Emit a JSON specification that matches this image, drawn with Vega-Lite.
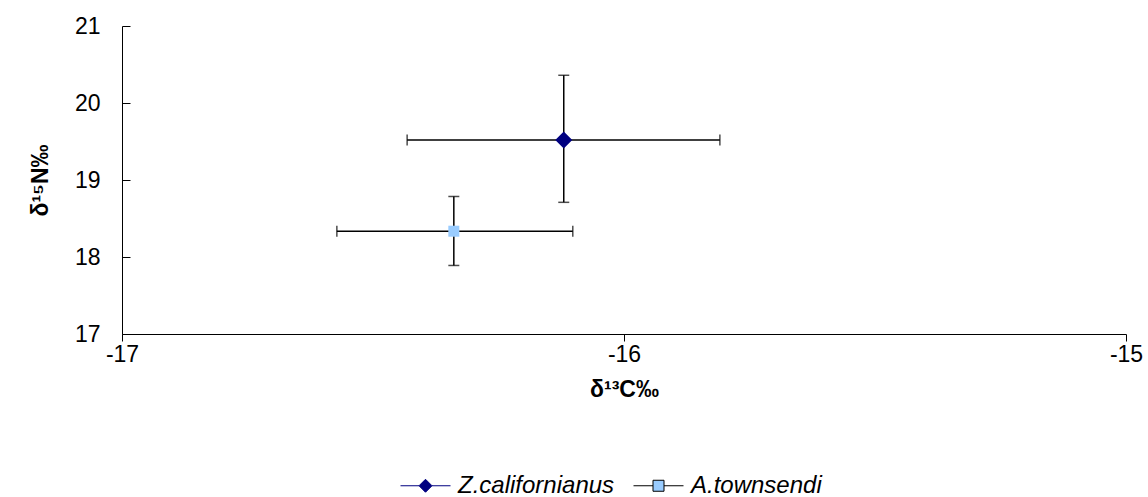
{
  "$schema": "https://vega.github.io/schema/vega-lite/v6.json",
  "width": 1004,
  "height": 308,
  "autosize": "none",
  "padding": {"left": 122, "top": 26, "right": 22, "bottom": 163},
  "background": "white",
  "config": {
    "view": {"stroke": null},
    "font": "Liberation Sans"
  },
  "data": {
    "values": [
      {"species": "Z.californianus", "x": -16.12, "y": 19.52, "xlo": -16.432, "xhi": -15.809, "ylo": 18.71, "yhi": 20.36},
      {"species": "A.townsendi", "x": -16.339, "y": 18.335, "xlo": -16.572, "xhi": -16.102, "ylo": 17.89, "yhi": 18.786}
    ]
  },
  "layer": [
    {
      "mark": {"type": "rule", "color": "black", "strokeWidth": 1.5},
      "encoding": {
        "x": {"field": "xlo", "type": "quantitative", "scale": {"domain": [-17, -15], "nice": false, "zero": false},
          "axis": {"values": [-17, -16, -15], "labelExpr": "'' + datum.value", "labelFlush": false, "title": "δ¹³C‰", "grid": false,
            "domainColor": "black", "tickColor": "black", "tickSize": 7, "labelPadding": 2,
            "labelFont": "Liberation Sans", "labelFontSize": 23, "labelColor": "black",
            "titleFont": "Liberation Sans", "titleFontSize": 23, "titleFontWeight": "bold", "titleColor": "black", "titlePadding": 12}},
        "x2": {"field": "xhi"},
        "y": {"field": "y", "type": "quantitative", "scale": {"domain": [17, 21], "nice": false, "zero": false},
          "axis": {"values": [17, 18, 19, 20, 21], "labelExpr": "'' + datum.value", "labelFlush": false, "title": "δ¹⁵N‰", "grid": false,
            "domainColor": "black", "tickColor": "black", "tickSize": -8, "labelPadding": 30,
            "labelFont": "Liberation Sans", "labelFontSize": 23, "labelColor": "black",
            "titleFont": "Liberation Sans", "titleFontSize": 23, "titleFontWeight": "bold", "titleColor": "black", "titlePadding": 22}}
      }
    },
    {
      "mark": {"type": "rule", "color": "black", "strokeWidth": 1.5},
      "encoding": {
        "x": {"field": "x", "type": "quantitative"},
        "y": {"field": "ylo", "type": "quantitative"},
        "y2": {"field": "yhi"}
      }
    },
    {
      "mark": {"type": "tick", "color": "black", "orient": "vertical", "size": 11, "thickness": 1.5},
      "encoding": {
        "x": {"field": "xlo", "type": "quantitative"},
        "y": {"field": "y", "type": "quantitative"}
      }
    },
    {
      "mark": {"type": "tick", "color": "black", "orient": "vertical", "size": 11, "thickness": 1.5},
      "encoding": {
        "x": {"field": "xhi", "type": "quantitative"},
        "y": {"field": "y", "type": "quantitative"}
      }
    },
    {
      "mark": {"type": "tick", "color": "black", "orient": "horizontal", "size": 11, "thickness": 1.5},
      "encoding": {
        "x": {"field": "x", "type": "quantitative"},
        "y": {"field": "ylo", "type": "quantitative"}
      }
    },
    {
      "mark": {"type": "tick", "color": "black", "orient": "horizontal", "size": 11, "thickness": 1.5},
      "encoding": {
        "x": {"field": "x", "type": "quantitative"},
        "y": {"field": "yhi", "type": "quantitative"}
      }
    },
    {
      "mark": {"type": "point", "filled": true, "opacity": 1, "strokeWidth": 0,
        "size": {"expr": "datum.species === 'Z.californianus' ? 289 : 121"},
        "shape": {"expr": "datum.species === 'Z.californianus' ? 'diamond' : 'square'"}},
      "encoding": {
        "x": {"field": "x", "type": "quantitative"},
        "y": {"field": "y", "type": "quantitative"},
        "color": {
          "field": "species", "type": "nominal",
          "scale": {"domain": ["Z.californianus", "A.townsendi"], "range": ["#000080", "#99CCFF"]},
          "legend": {
            "title": null,
            "orient": "none",
            "legendX": 278,
            "legendY": 434,
            "direction": "horizontal",
            "padding": 0,
            "symbolSize": 2500,
            "symbolStrokeWidth": 1,
            "symbolOpacity": 1,
            "labelFont": "Liberation Sans",
            "labelFontSize": 24,
            "labelFontStyle": "italic",
            "labelColor": "black",
            "labelOffset": 7,
            "columnPadding": 16,
            "encode": {
              "symbols": {
                "update": {
                  "size": {"value": 2500},
                  "shape": {"signal": "datum.value === 'Z.californianus' ? 'M-1,0L-0.26,0M0.26,0L1,0M0,-0.26L0.26,0L0,0.26L-0.26,0Z' : 'M-1,0L-0.22,0M0.22,0L1,0M-0.22,-0.22L0.22,-0.22L0.22,0.22L-0.22,0.22Z'"},
                  "stroke": {"signal": "datum.value === 'Z.californianus' ? '#000080' : 'black'"},
                  "strokeWidth": {"value": 1}
                }
              }
            }
          }
        }
      }
    }
  ]
}
